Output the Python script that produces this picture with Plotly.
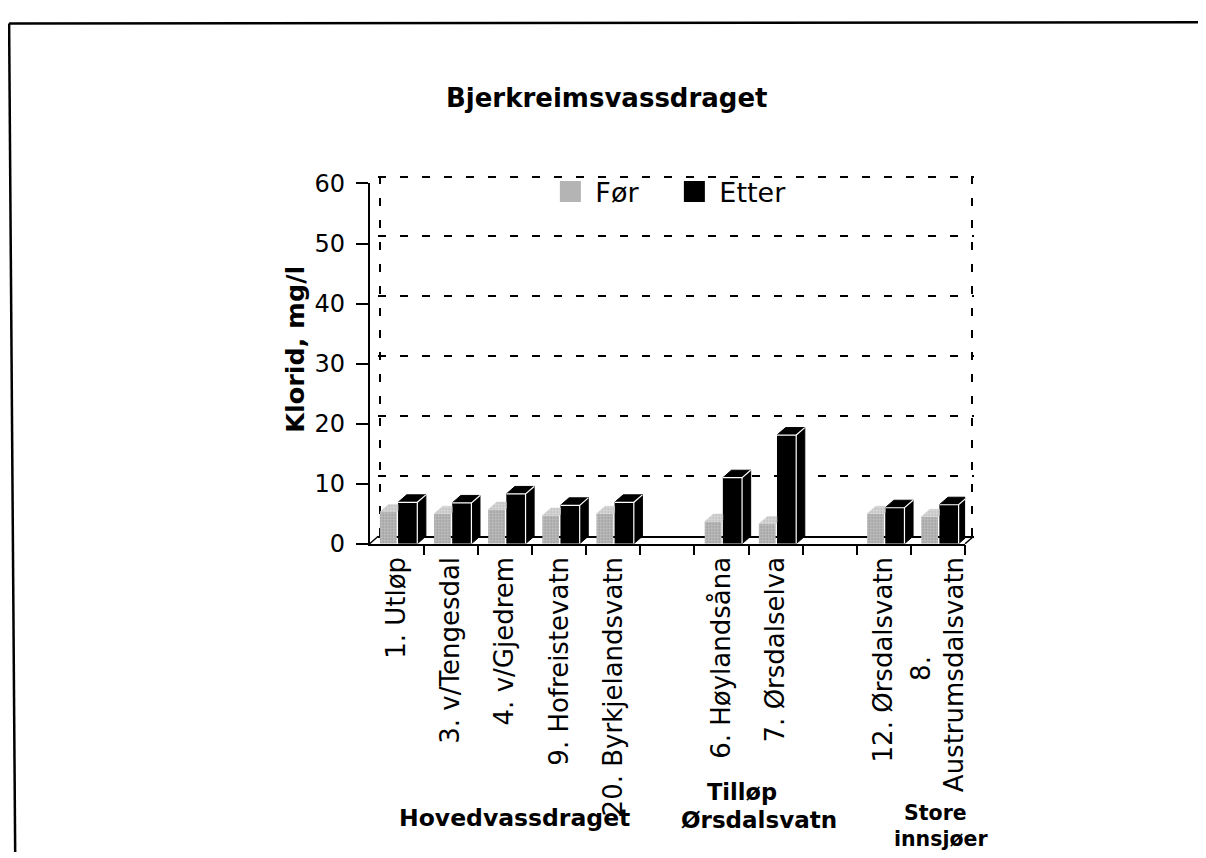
import plotly.graph_objects as go

# ---------------- data ----------------
categories = ["1. Utløp", "3. v/Tengesdal", "4. v/Gjedrem", "9. Hofreistevatn",
              "20. Byrkjelandsvatn", "", "6. Høylandsåna", "7. Ørsdalselva", "",
              "12. Ørsdalsvatn", "8." + "\u00a0" * 12 + "<br>Austrumsdalsvatn"]
for_vals = [5.3, 5.0, 5.7, 4.7, 5.0, None, 3.7, 3.3, None, 5.0, 4.5]
etter_vals = [6.9, 6.8, 8.3, 6.4, 6.9, None, 11.0, 18.1, None, 6.0, 6.5]
y_tick_vals = [0, 10, 20, 30, 40, 50, 60]
grid_vals = [10, 20, 30, 40, 50, 59.8]
series_names = ["Før", "Etter"]
chart_title = "Bjerkreimsvassdraget"
y_title = "Klorid, mg/l"
group_names = ["Hovedvassdraget", "Tilløp", "Ørsdalsvatn", "Store", "innsjøer"]

# ---------------- layout geometry ----------------
W, H = 1206, 858
# the page is photographed with its margins and shrunk to the window:
# screen = OFF + SCALE * figure pixel
SCX, OFX = 0.9869, 7.9
SCY, OFY = 0.968, 20.9


def fx(X):           # screen x -> paper fraction
    return ((X - OFX) / SCX) / W


def fy(Y):           # screen y -> paper fraction
    return 1 - ((Y - OFY) / SCY) / H


FONT = "DejaVu Sans, Verdana, sans-serif"
GRAY, GRAY_TOP, BLACK = "#b4b4b4", "#d0d0d0", "#000000"
FX0, FX1, FY0, FY60 = 366.0, 955.6, 543.0, 182.5   # front plane (screen px)
DX_S, DY_S = 8.5, 7.5                              # 3D depth (screen px)
Y_MAX = 60

n = len(categories)
x_range = [-0.5, n - 0.5]
dx = DX_S / ((FX1 - FX0) / n)
dy = DY_S / ((FY0 - FY60) / Y_MAX)

G_OFF, G_W = -0.31, 0.31
B_OFF, B_W = 0.025, 0.355

# 3D faces derived from the data values
gray_top_x, gray_top_y = [], []
blk_x, blk_y = [], []
edge_x, edge_y = [], []
for i, (vf, ve) in enumerate(zip(for_vals, etter_vals)):
    gx0, gx1 = i + G_OFF, i + G_OFF + G_W
    bx0, bx1 = i + B_OFF, i + B_OFF + B_W
    if vf is not None:
        clip = min(bx0, gx1 + dx)
        ymid = vf + dy * (clip - gx1) / dx
        gray_top_x += [gx0, gx1, clip, clip, gx0 + dx, gx0, None]
        gray_top_y += [vf, vf, ymid, vf + dy, vf + dy, vf, None]
    if ve is not None:
        blk_x += [bx0, bx1, bx1 + dx, bx0 + dx, bx0, None]
        blk_y += [ve, ve, ve + dy, ve + dy, ve, None]
        blk_x += [bx1, bx1 + dx, bx1 + dx, bx1, bx1, None]
        blk_y += [0, dy, ve + dy, ve, 0, None]
        edge_x += [bx1, bx1, None, bx0, bx1, bx1 + dx, None]
        edge_y += [0, ve, None, ve, ve, ve + dy, None]

xs = list(range(n))
fig = go.Figure()

fig.add_trace(go.Scatter(x=[], y=[], xaxis="x", yaxis="y", showlegend=False, hoverinfo="skip"))

fig.add_trace(go.Bar(x=xs, y=for_vals, xaxis="x2", yaxis="y2", offset=G_OFF, width=G_W,
                     marker=dict(color=GRAY, line=dict(width=0),
                                 pattern=dict(shape=".", fgcolor="#666666", bgcolor="#c2c2c2",
                                              size=3, solidity=0.4)),
                     name=series_names[0], showlegend=False))
fig.add_trace(go.Bar(x=xs, y=etter_vals, xaxis="x2", yaxis="y2", offset=B_OFF, width=B_W,
                     marker=dict(color=BLACK, line=dict(width=0)), name=series_names[1],
                     showlegend=False))
fig.add_trace(go.Scatter(x=gray_top_x, y=gray_top_y, xaxis="x2", yaxis="y2", mode="lines",
                         fill="toself", fillcolor=GRAY_TOP,
                         fillpattern=dict(shape=".", fgcolor="#8a8a8a", bgcolor="#dadada",
                                          size=3, solidity=0.3),
                         line=dict(color=GRAY_TOP, width=0.5), showlegend=False, hoverinfo="skip"))
fig.add_trace(go.Scatter(x=blk_x, y=blk_y, xaxis="x2", yaxis="y2", mode="lines",
                         fill="toself", fillcolor=BLACK, line=dict(color=BLACK, width=1),
                         showlegend=False, hoverinfo="skip"))
fig.add_trace(go.Scatter(x=edge_x, y=edge_y, xaxis="x2", yaxis="y2", mode="lines",
                         line=dict(color="white", width=1.2), showlegend=False, hoverinfo="skip"))

# legend entries
fig.add_trace(go.Scatter(x=[None], y=[None], xaxis="x2", yaxis="y2", mode="markers",
                         name=series_names[0],
                         marker=dict(symbol="square", size=16, color=GRAY,
                                     line=dict(color=GRAY, width=5))))
fig.add_trace(go.Scatter(x=[None], y=[None], xaxis="x2", yaxis="y2", mode="markers",
                         name=series_names[1],
                         marker=dict(symbol="square", size=16, color=BLACK,
                                     line=dict(color=BLACK, width=5))))
fig.add_trace(go.Scatter(x=[], y=[], xaxis="x3", yaxis="y2", showlegend=False, hoverinfo="skip"))

GRID_DASH = "8px,14px"
fig.update_layout(
    width=W, height=H, margin=dict(l=0, r=0, t=0, b=0),
    paper_bgcolor="white", plot_bgcolor="rgba(0,0,0,0)",
    font=dict(family=FONT, color="black"),
    barmode="overlay", showlegend=True,
    xaxis=dict(domain=[fx(FX0 + DX_S), fx(FX1 + DX_S)], range=x_range, anchor="y",
               tickvals=[x_range[0] + 0.03, x_range[1] - 0.03], showticklabels=False, ticks="",
               showgrid=True, griddash=GRID_DASH, gridcolor="black", gridwidth=1.5,
               showline=True, linecolor="black", linewidth=1.5, zeroline=False, fixedrange=True),
    yaxis=dict(domain=[fy(FY0 - DY_S), fy(FY60 - DY_S)], range=[0, Y_MAX], anchor="x",
               tickvals=grid_vals, showticklabels=False, ticks="",
               showgrid=True, griddash=GRID_DASH, gridcolor="black", gridwidth=1.5,
               showline=False, zeroline=False, fixedrange=True),
    xaxis2=dict(domain=[fx(FX0), fx(FX1)], range=x_range, anchor="y2",
                tickvals=xs, ticktext=categories, tickangle=-90, ticks="",
                tickfont=dict(size=26, family=FONT, color="black"), ticklabelstandoff=1,
                showline=True, linecolor="black", linewidth=1.5,
                showgrid=False, zeroline=False, fixedrange=True),
    xaxis3=dict(overlaying="x2", range=x_range, anchor="y2",
                tickvals=[i + 0.5 for i in xs], ticks="outside", ticklen=10, tickwidth=1.5,
                tickcolor="black", showticklabels=False, showline=False, showgrid=False,
                zeroline=False, fixedrange=True),
    yaxis2=dict(domain=[fy(FY0), fy(FY60)], range=[0, Y_MAX], anchor="x2",
                tickvals=y_tick_vals, ticks="outside", ticklen=12, tickwidth=1.5,
                tickcolor="black", tickfont=dict(size=24, family=FONT, color="black"),
                ticklabelstandoff=6,
                showline=True, linecolor="black", linewidth=1.5,
                showgrid=False, zeroline=False, fixedrange=True),
    legend=dict(orientation="h", x=fx(540), xanchor="left", y=fy(191), yanchor="middle",
                bgcolor="rgba(0,0,0,0)", font=dict(size=27, family=FONT, color="black"),
                itemsizing="trace", itemwidth=40, entrywidth=69, entrywidthmode="pixels",
                traceorder="normal"),
)

annos = [
    dict(text=chart_title, x=601, y=97, size=26),
    dict(text=y_title, x=292, y=348, size=25.5, angle=-90),
    dict(text=group_names[0], x=509, y=817, size=23.5),
    dict(text=group_names[1], x=735, y=791, size=22.5),
    dict(text=group_names[2], x=752, y=819, size=23),
    dict(text=group_names[3], x=926, y=812, size=20.5),
    dict(text=group_names[4], x=932, y=838, size=20.5),
]
for a in annos:
    fig.add_annotation(text="<b>" + a["text"] + "</b>", x=fx(a["x"]), y=fy(a["y"]),
                       xref="paper", yref="paper", xanchor="center", yanchor="middle",
                       showarrow=False, textangle=a.get("angle", 0),
                       font=dict(size=a["size"], family=FONT, color="black"))

# page frame (scanned sheet border) and the floor's slanted corners
frame = [
    (fx(9.0), 1 - 1.5 / H, 1.0, 1 - 0.2 / H, 2.5),
    (fx(9.0), 1 - 1.5 / H, fx(15), 0.0, 2.5),
    (fx(FX0), fy(FY0), fx(FX0 + DX_S), fy(FY0 - DY_S), 1.5),
    (fx(FX1), fy(FY0), fx(FX1 + DX_S), fy(FY0 - DY_S), 1.5),
]
for x0, y0, x1, y1, w in frame:
    fig.add_shape(type="line", x0=x0, y0=y0, x1=x1, y1=y1, xref="paper", yref="paper",
                  line=dict(color="black", width=w))

fig.write_html("out.html")
